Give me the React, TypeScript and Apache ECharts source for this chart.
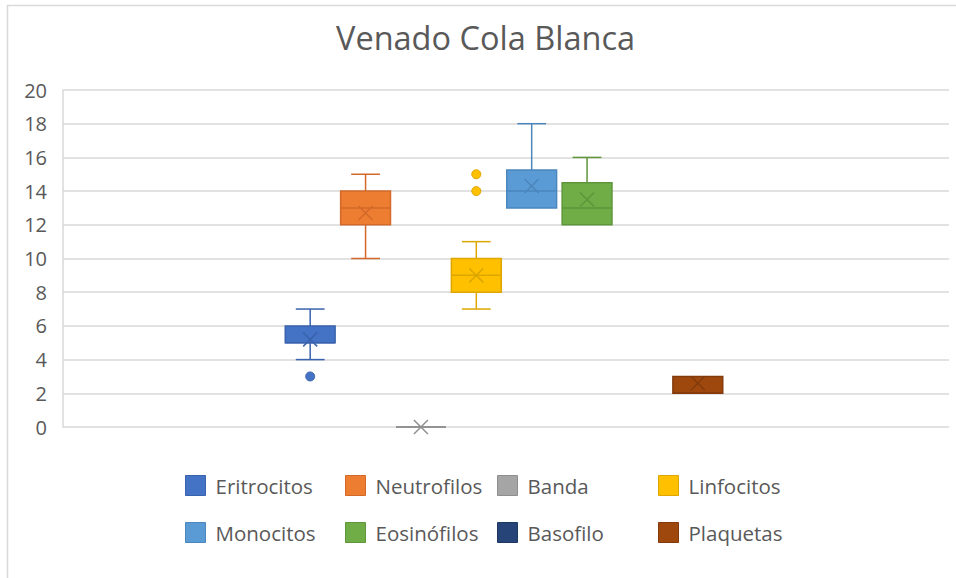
import React, { useEffect, useRef } from "react";
import * as echarts from "echarts";

const categories = [""];
const seriesNames = ["Eritrocitos", "Neutrofilos", "Banda", "Linfocitos", "Monocitos", "Eosinófilos", "Basofilo", "Plaquetas"];
const minVals = [4, 10, 0, 7, 13, 12, null, 2];
const q1Vals = [5, 12, 0, 8, 13, 12, null, 2];
const medianVals = [5, 13, 0, 9, 14, 13, null, 2];
const q3Vals = [6, 14, 0, 10, 15.25, 14.5, null, 3];
const maxVals = [7, 15, 0, 11, 18, 16, null, 3];
const meanVals = [5.2, 12.7, 0, 9, 14.3, 13.5, null, 2.6];
const outliers: number[][] = [[3], [], [], [14, 15], [], [], [], []];
const yTicks = { min: 0, max: 20, interval: 2 };

const fillColors = ["#4472C4", "#ED7D31", "#A5A5A5", "#FFC000", "#5B9BD5", "#70AD47", "#264478", "#9E480E"];
const lineColors = ["#3A63AE", "#D2692A", "#8E8E8E", "#DDA600", "#4B86BC", "#5E963B", "#1E3864", "#833B0C"];

export default function App() {
  const ref = useRef<HTMLDivElement>(null);
  useEffect(() => {
    if (!ref.current) return;
    const chart = echarts.init(ref.current, undefined, { renderer: "svg" });
    const font = "'Open Sans', 'Liberation Sans', Arial, sans-serif";

    const renderItem = (params: any, api: any) => {
      const i = params.seriesIndex;
      const bw = api.size([1, 0])[0];
      const slot = bw / 16;
      const cx = api.coord([api.value(0), 0])[0] + (i - 3.5) * slot - 2;
      const boxW = slot * 0.9;
      const capW = slot * 0.26;
      const y = (v: number) => api.coord([0, v])[1];
      const mn = y(api.value(1));
      const q1 = y(api.value(2));
      const md = y(api.value(3));
      const q3 = y(api.value(4));
      const mx = y(api.value(5));
      const mean = y(api.value(6));
      const lc = lineColors[i];
      const fc = fillColors[i];
      const lw = 1.5;
      const children: any[] = [];
      const line = (x1: number, y1: number, x2: number, y2: number, w = lw) => ({
        type: "line",
        shape: { x1, y1, x2, y2 },
        style: { stroke: lc, lineWidth: w },
      });
      if (mx < q3 - 0.5) {
        children.push(line(cx, mx, cx, q3));
        children.push(line(cx - capW, mx, cx + capW, mx));
      }
      if (mn > q1 + 0.5) {
        children.push(line(cx, q1, cx, mn));
        children.push(line(cx - capW, mn, cx + capW, mn));
      }
      children.push({
        type: "rect",
        shape: { x: cx - boxW / 2, y: q3, width: boxW, height: Math.max(q1 - q3, 0) },
        style: { fill: fc, stroke: lc, lineWidth: lw },
      });
      children.push(line(cx - boxW / 2, md, cx + boxW / 2, md));
      const xs = 7;
      children.push(line(cx - xs, mean - xs, cx + xs, mean + xs));
      children.push(line(cx - xs, mean + xs, cx + xs, mean - xs));
      (outliers[i] || []).forEach((v) => {
        children.push({
          type: "circle",
          shape: { cx, cy: y(v), r: 4.5 },
          style: { fill: fc, stroke: lc, lineWidth: 1 },
        });
      });
      return { type: "group", children };
    };

    const series = seriesNames.map((name, i) => ({
      name,
      type: "custom",
      renderItem,
      itemStyle: { color: fillColors[i], borderColor: lineColors[i] },
      encode: { x: 0, y: [1, 2, 3, 4, 5, 6] },
      data:
        minVals[i] === null
          ? []
          : [[0, minVals[i], q1Vals[i], medianVals[i], q3Vals[i], maxVals[i], meanVals[i]]],
      z: 3,
    }));

    const legendCols = [
      { left: 185, names: [0, 4] },
      { left: 345, names: [1, 5] },
      { left: 497, names: [2, 6] },
      { left: 658, names: [3, 7] },
    ];
    const legends = legendCols.map((c) => ({
      orient: "vertical",
      left: c.left,
      top: 475,
      padding: 0,
      itemWidth: 20,
      itemHeight: 20,
      itemGap: 26,
      selectedMode: false,
      icon: "rect",
      textStyle: { color: "#595959", fontSize: 20.5, fontFamily: font, padding: [0, 0, 0, 5] },
      data: c.names.map((k) => ({
        name: seriesNames[k],
        itemStyle: { color: fillColors[k], borderColor: lineColors[k], borderWidth: 1 },
      })),
    }));

    chart.setOption({
      animation: false,
      backgroundColor: "#ffffff",
      title: {
        text: "Venado Cola Blanca",
        left: 336,
        top: 21,
        padding: 0,
        textStyle: { color: "#595959", fontSize: 32.5, fontWeight: "normal", fontFamily: font },
      },
      graphic: [
        {
          type: "rect",
          shape: { x: 7.5, y: 5.5, width: 1200, height: 1200 },
          style: { fill: "none", stroke: "#d9d9d9", lineWidth: 1.5 },
          silent: true,
        },
      ],
      legend: legends,
      grid: { left: 63, right: 7, top: 90, bottom: 151 },
      xAxis: {
        type: "category",
        data: categories,
        axisLine: { show: false },
        axisTick: { show: false },
        axisLabel: { show: false },
        splitLine: { show: false },
      },
      yAxis: {
        type: "value",
        min: yTicks.min,
        max: yTicks.max,
        interval: yTicks.interval,
        axisLine: { show: true, lineStyle: { color: "#d9d9d9", width: 1.5 } },
        axisTick: { show: false },
        axisLabel: { color: "#595959", fontSize: 20, fontFamily: font, margin: 16 },
        splitLine: { show: true, lineStyle: { color: "#d9d9d9", width: 1.5 } },
      },
      series,
    });
    return () => chart.dispose();
  }, []);
  return (
    <div
      ref={ref}
      style={{ position: "absolute", left: 0, top: 0, width: 956, height: 578, background: "#fff" }}
    />
  );
}
